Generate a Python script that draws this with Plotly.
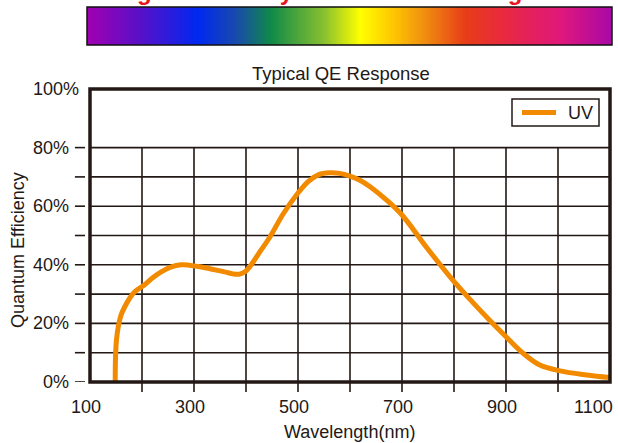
import plotly.graph_objects as go
import numpy as np

# ---- data ----
wavelength_nm = [148.5, 149, 151, 155, 160, 167, 176, 186, 205, 220, 237, 255, 275, 308, 335,
                 359, 375, 387, 398, 410, 425, 446, 472, 500, 520, 540, 560, 580, 600, 620,
                 640, 671, 700, 747, 792, 837, 869, 901, 933, 965, 1004, 1055, 1100]
qe_uv = [0, 8, 14.5, 19.5, 23, 25.7, 28.5, 30.8, 33.2, 35.5, 37.6, 39.2, 40, 39.4, 38.5,
         37.6, 36.9, 36.8, 37.6, 40, 44, 49.5, 57.5, 64.5, 68.5, 70.8, 71.4, 71.2, 70.3, 68.8,
         66.5, 62, 57, 46, 36, 27, 21, 15.3, 9.8, 5.8, 3.8, 2.4, 1.5]
series_name = "UV"

x_label_vals = [100, 300, 500, 700, 900, 1100]
x_tick_marks = [200, 300, 400, 500, 600, 700, 800, 900, 1000]
y_tick_marks = [0, 10, 20, 30, 40, 50, 60, 70, 80]
y_label_vals = [0, 20, 40, 60, 80, 100]

spectrum_stops = [
    (0.00, "#A000B0"), (0.10, "#5810C8"), (0.21, "#0028F0"), (0.28, "#1848B0"),
    (0.35, "#108A48"), (0.45, "#88C030"), (0.52, "#FFFF00"), (0.58, "#FFC800"),
    (0.64, "#F09010"), (0.72, "#E83C18"), (0.80, "#E82844"), (0.90, "#E0187A"),
    (1.00, "#A808A8"),
]

ink = "#231815"
orange = "#F28A00"
font_family = "Liberation Sans, Arial, sans-serif"

# layout geometry (paper: x 87..612 px, y 7..382 px)
W, H = 618, 443
ml, mr, mt, mb = 87, 6, 7, 61
pw, ph = W - ml - mr, H - mt - mb

def px_x(p):
    return (p - ml) / pw

def px_y(p):
    return (H - mb - p) / ph

fig = go.Figure()

# spectrum bar
grad = np.linspace(0, 1, 300)
fig.add_trace(go.Heatmap(z=[grad], x=grad, y=[0], colorscale=spectrum_stops,
                         showscale=False, hoverinfo="skip", xaxis="x2", yaxis="y2",
                         zsmooth="best"))

fig.add_trace(go.Scatter(x=wavelength_nm, y=qe_uv, mode="lines", name=series_name,
                         line=dict(color=orange, width=5, shape="spline", smoothing=1.0)))

shapes = []
# grid
for xv in x_tick_marks:
    shapes.append(dict(type="line", xref="x", yref="y", x0=xv, x1=xv, y0=0, y1=80,
                       line=dict(color=ink, width=1.6), layer="below"))
for yv in y_tick_marks[1:]:
    shapes.append(dict(type="line", xref="x", yref="y", x0=100, x1=1100, y0=yv, y1=yv,
                       line=dict(color=ink, width=1.6), layer="below"))
# x tick marks
for xv in x_tick_marks:
    shapes.append(dict(type="line", xref="x", yref="y domain", x0=xv, x1=xv, y0=0, y1=-0.034,
                       line=dict(color=ink, width=1.6)))
# y tick marks
for yv in y_tick_marks:
    shapes.append(dict(type="line", xref="x domain", yref="y", x0=-0.029, x1=-0.0096, y0=yv, y1=yv,
                       line=dict(color=ink, width=1.6)))
# plot frame
shapes.append(dict(type="rect", xref="x domain", yref="y domain", x0=0, x1=1, y0=0, y1=1,
                   line=dict(color=ink, width=3.5), layer="above"))
# spectrum frame
shapes.append(dict(type="rect", xref="x2 domain", yref="y2 domain", x0=0, x1=1, y0=0, y1=1,
                   line=dict(color="#111111", width=1.5)))
# legend box and sample line
shapes.append(dict(type="rect", xref="paper", yref="paper", x0=px_x(512), x1=px_x(599),
                   y0=px_y(126), y1=px_y(99), line=dict(color=ink, width=1.5),
                   fillcolor="white", layer="above"))
shapes.append(dict(type="line", xref="paper", yref="paper", x0=px_x(522), x1=px_x(556),
                   y0=px_y(112.5), y1=px_y(112.5), line=dict(color=orange, width=5),
                   layer="above"))

annotations = []
for yv in y_label_vals:
    annotations.append(dict(xref="x domain", yref="y", x=(-0.017 if yv == 100 else -0.037), y=yv,
                            text=f"{yv}%", showarrow=False, xanchor="right", yanchor="middle",
                            font=dict(size=18, color=ink, family=font_family)))
for xv in x_label_vals:
    last = xv == x_label_vals[-1]
    annotations.append(dict(xref="x", yref="paper", x=xv, y=px_y(407),
                            text=str(xv), showarrow=False,
                            xanchor=("right" if last else "center"), yanchor="middle",
                            xshift=(5 if last else -4),
                            font=dict(size=18, color=ink, family=font_family)))
annotations += [
    dict(xref="paper", yref="paper", x=px_x(566), y=px_y(113), text=series_name,
         showarrow=False, xanchor="left", yanchor="middle",
         font=dict(size=18, color=ink, family=font_family)),
    dict(xref="paper", yref="paper", x=px_x(341), y=px_y(73), text="Typical QE Response",
         showarrow=False, xanchor="center", yanchor="middle",
         font=dict(size=18.5, color=ink, family=font_family)),
    dict(xref="paper", yref="paper", x=px_x(18), y=px_y(250), text="Quantum Efficiency",
         showarrow=False, textangle=-90, xanchor="center", yanchor="middle",
         font=dict(size=18, color=ink, family=font_family)),
    dict(xref="paper", yref="paper", x=px_x(349), y=px_y(432), text="Wavelength(nm)",
         showarrow=False, xanchor="center", yanchor="middle",
         font=dict(size=18, color=ink, family=font_family)),
    dict(xref="paper", yref="paper", x=px_x(335), y=px_y(-9), text="<b>High Sensitivity from UV to NIR Region</b>",
         showarrow=False, xanchor="center", yanchor="middle",
         font=dict(size=24, color="#E8141E", family=font_family)),
]

fig.update_layout(
    width=W, height=H,
    margin=dict(l=ml, r=mr, t=mt, b=mb),
    paper_bgcolor="white", plot_bgcolor="white",
    showlegend=False,
    xaxis=dict(domain=[px_x(90), px_x(610)], range=[100, 1100], showticklabels=False,
               ticks="", showgrid=False, zeroline=False, showline=False, automargin=False,
               anchor="y"),
    yaxis=dict(domain=[0, px_y(89)], range=[0, 100], showticklabels=False, ticks="",
               showgrid=False, zeroline=False, showline=False, anchor="x", automargin=False),
    xaxis2=dict(domain=[0, 1], range=[0, 1], visible=False, anchor="y2", automargin=False),
    yaxis2=dict(domain=[px_y(45), 1], range=[-0.5, 0.5], visible=False, anchor="x2", automargin=False),
    shapes=shapes,
    annotations=annotations,
)

fig.write_html("out.html", config={"displayModeBar": False},
               post_script="document.body.style.margin='0px';document.body.style.overflow='hidden';")
